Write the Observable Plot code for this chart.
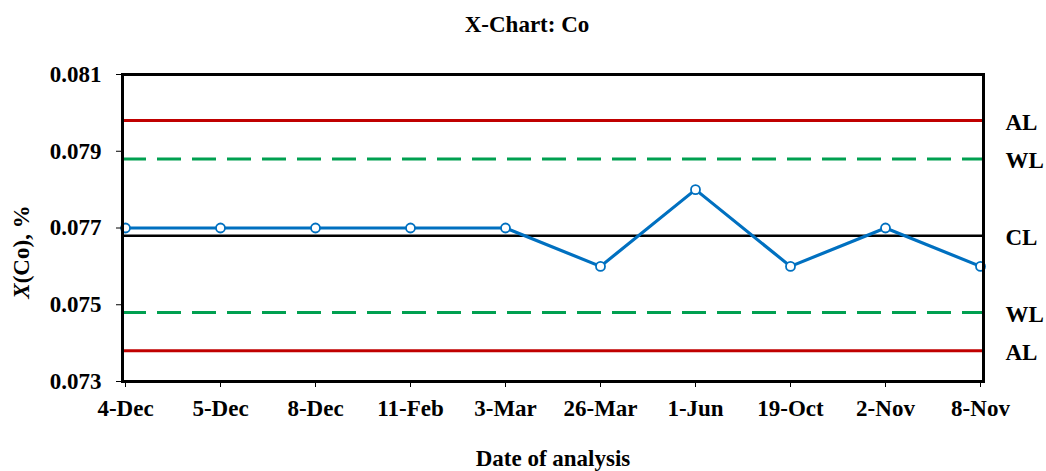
<!DOCTYPE html>
<html>
<head>
<meta charset="utf-8">
<script src="https://cdn.jsdelivr.net/npm/d3@7"></script>
<script src="https://cdn.jsdelivr.net/npm/@observablehq/plot@0.6"></script>
<style>
  html, body { margin: 0; padding: 0; background: #fff; }
  #chart { width: 1046px; height: 471px; }
</style>
</head>
<body>
<div id="chart"></div>
<script>
const dates = ["4-Dec", "5-Dec", "8-Dec", "11-Feb", "3-Mar", "26-Mar", "1-Jun", "19-Oct", "2-Nov", "8-Nov"];
const values = [0.077, 0.077, 0.077, 0.077, 0.077, 0.076, 0.078, 0.076, 0.077, 0.076];
const limitNames = ["AL", "WL", "CL", "WL", "AL"];
const limitValues = [0.0798, 0.0788, 0.0768, 0.0748, 0.0738];
const limitKinds = ["action", "warning", "center", "warning", "action"];
const yTicks = [0.073, 0.075, 0.077, 0.079, 0.081];

const points = dates.map((d, i) => ({date: d, value: values[i]}));
const limits = limitNames.map((n, i) => ({name: n, value: limitValues[i], kind: limitKinds[i]}));

const font = "'Liberation Serif', 'Times New Roman', serif";

const plot = Plot.plot({
  width: 1046,
  height: 471,
  marginTop: 74,
  marginLeft: 122,
  marginRight: 63,
  marginBottom: 90,
  style: {fontFamily: font, fontSize: "23px", fontWeight: "bold", color: "#000", background: "#fff"},
  x: {type: "point", domain: dates, padding: 0, label: null},
  y: {domain: [0.073, 0.081], label: null},
  marks: [
    Plot.ruleY(limits.filter(d => d.kind === "action"), {y: "value", stroke: "#C00000", strokeWidth: 3}),
    Plot.ruleY(limits.filter(d => d.kind === "warning"), {y: "value", stroke: "#00A050", strokeWidth: 3, strokeDasharray: "24,11"}),
    Plot.ruleY(limits.filter(d => d.kind === "center"), {y: "value", stroke: "#000", strokeWidth: 2.5}),
    Plot.line(points, {x: "date", y: "value", stroke: "#0070C0", strokeWidth: 3.2}),
    Plot.dot(points, {x: "date", y: "value", r: 4.5, fill: "#fff", stroke: "#0070C0", strokeWidth: 1.8}),
    Plot.frame({stroke: "#000", strokeWidth: 3}),
    Plot.axisY({ticks: yTicks, tickFormat: d3.format(".3f"), tickSize: 6, tickPadding: 15, fontSize: 23, fontWeight: "bold", label: null}),
    Plot.axisX({tickSize: 6, tickPadding: 12, fontSize: 23, fontWeight: "bold", label: null}),
    Plot.text(limits, {frameAnchor: "right", y: "value", text: "name", textAnchor: "start", dx: 22, dy: 2, fontSize: 23, fontWeight: "bold"}),
    Plot.text(["X-Chart: Co"], {frameAnchor: "top", dx: -26, dy: -59, fontSize: 23, fontWeight: "bold"}),
    Plot.text(["Date of analysis"], {frameAnchor: "bottom", dy: 84, fontSize: 23, fontWeight: "bold"})
  ]
});

const svg = d3.select(plot);
// rotated y-axis label with italic X
const ylab = svg.append("text")
  .attr("transform", "translate(21,252) rotate(-90)")
  .attr("text-anchor", "middle")
  .attr("dy", "0.35em")
  .attr("font-family", font)
  .attr("font-size", 23)
  .attr("font-weight", "bold")
  .attr("fill", "#000");
ylab.append("tspan").attr("font-style", "italic").text("X");
ylab.append("tspan").text("(Co), %");

document.getElementById("chart").appendChild(plot);
</script>
</body>
</html>
